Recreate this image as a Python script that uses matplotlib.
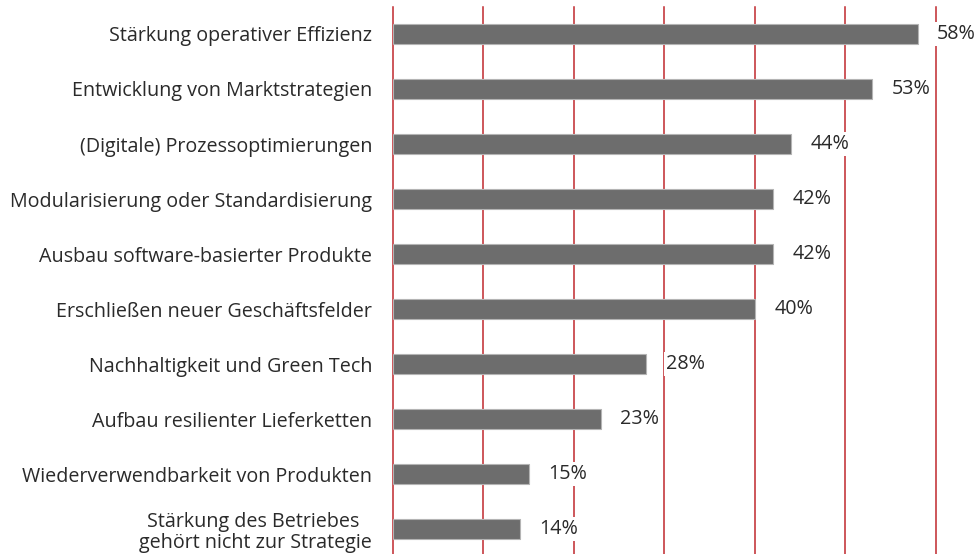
import matplotlib
matplotlib.use("Agg")
import matplotlib.pyplot as plt

categories = [
    "Stärkung operativer Effizienz",
    "Entwicklung von Marktstrategien",
    "(Digitale) Prozessoptimierungen",
    "Modularisierung oder Standardisierung",
    "Ausbau software-basierter Produkte",
    "Erschließen neuer Geschäftsfelder",
    "Nachhaltigkeit und Green Tech",
    "Aufbau resilienter Lieferketten",
    "Wiederverwendbarkeit von Produkten",
    "Stärkung des Betriebes \ngehört nicht zur Strategie",
]
values = [58, 53, 44, 42, 42, 40, 28, 23, 15, 14]
grid_ticks = [0, 10, 20, 30, 40, 50, 60]

plt.rcParams['font.family'] = ['Open Sans', 'DejaVu Sans']

W, H = 976, 554
fig = plt.figure(figsize=(W / 100, H / 100), dpi=100)
left = 393 / W
right = 935.6 / W
ax = fig.add_axes([left, 0, right - left, (H - 7) / H])

red = "#c0282d"
for t in grid_ticks:
    ax.axvline(t, color=red, lw=1.1, zorder=0, clip_on=False)

ys = list(range(len(categories)))
ax.barh(ys, values, height=0.36, color="#6d6d6d", edgecolor="#b4b4b4",
        linewidth=0.8, zorder=2)

fs = 14.2
for y, v in zip(ys, values):
    ax.annotate(f"{v}%", xy=(v, y), xytext=(14.0, 0), textcoords="offset points",
                ha="left", va="center", fontsize=fs, color="#2a2a2a",
                bbox=dict(boxstyle="square,pad=0.1", fc="white", ec="none"),
                zorder=3)

ax.set_xlim(0, 60)
ax.set_ylim(9.45, -0.49)
ax.set_yticks(ys)
ax.set_yticklabels(categories, fontsize=fs, color="#2a2a2a", ha="right",
                   multialignment="center", linespacing=1.1)
ax.tick_params(axis="y", length=0, pad=15)
ax.set_xticks([])
for s in ax.spines.values():
    s.set_visible(False)

fig.savefig("out.png", dpi=100)
